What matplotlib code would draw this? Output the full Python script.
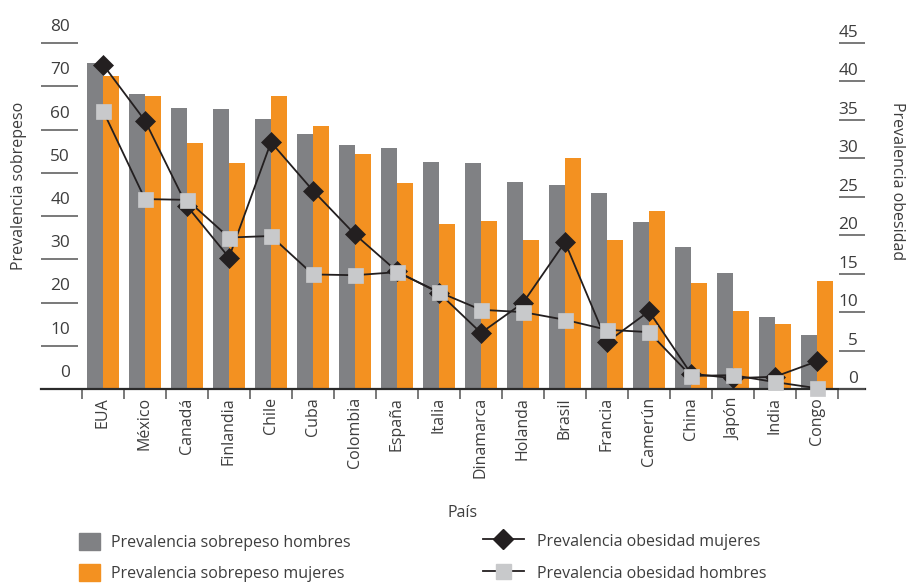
import matplotlib
matplotlib.use("Agg")
import matplotlib.pyplot as plt
import matplotlib.transforms as mtransforms
from matplotlib.lines import Line2D
from matplotlib.patches import Patch
import numpy as np

plt.rcParams["font.family"] = ["Open Sans", "DejaVu Sans"]

TEXT = "#3d3d3d"
TICK = "#555555"
GRAY = "#808184"
ORANGE = "#F39121"
DARK = "#231F20"
LIGHT = "#C8C9CB"

paises = ["EUA", "México", "Canadá", "Finlandia", "Chile", "Cuba", "Colombia",
          "España", "Italia", "Dinamarca", "Holanda", "Brasil", "Francia",
          "Camerún", "China", "Japón", "India", "Congo"]

# prevalencia de sobrepeso (%), eje izquierdo
sobrepeso_hombres = [75.3, 68.2, 65.0, 64.7, 62.4, 58.9, 56.4, 55.7, 52.5,
                     52.3, 47.9, 47.2, 45.3, 38.6, 32.8, 26.8, 16.6, 12.5]
sobrepeso_mujeres = [72.4, 67.7, 56.9, 52.3, 67.7, 60.8, 54.3, 47.6, 38.2,
                     38.8, 34.5, 53.4, 34.5, 41.2, 24.5, 18.0, 15.0, 25.0]

# prevalencia de obesidad (%), eje derecho
obesidad_mujeres = [42.2, 34.9, 23.8, 17.1, 32.1, 25.8, 20.1, 15.3, 12.5,
                    7.3, 11.2, 19.1, 6.1, 10.1, 2.0, 1.4, 1.6, 3.6]
obesidad_hombres = [36.2, 24.7, 24.6, 19.7, 19.9, 14.9, 14.8, 15.2, 12.6,
                    10.3, 10.0, 9.0, 7.7, 7.4, 1.7, 1.8, 0.9, 0.1]

ticks_izq = list(range(0, 81, 10))
ticks_der = list(range(0, 46, 5))

fig = plt.figure(figsize=(9.07, 5.85), dpi=100)
ax = fig.add_axes([41 / 907, 1 - 389 / 585, 824 / 907, 346 / 585])

x = np.arange(len(paises))
w = 0.37
ax.bar(x - w / 2, sobrepeso_hombres, w, color=GRAY, zorder=2)
ax.bar(x + w / 2, sobrepeso_mujeres, w, color=ORANGE, zorder=2)

ax.set_xlim(-1.476, 18.143)
ax.set_ylim(0, 80)
for s in ("top", "right", "left"):
    ax.spines[s].set_visible(False)
ax.spines["bottom"].set_color("#2b2b2b")
ax.spines["bottom"].set_linewidth(1.6)

# ticks: labels sit above short inward lines
ax.set_yticks(ticks_izq)
ax.tick_params(axis="y", direction="in", length=26.6, width=1.1,
               color=TICK, labelleft=False)
ax.set_xticks(x)
ax.set_xticklabels(paises, rotation=90, fontsize=11.5, color=TEXT)
ax.tick_params(axis="x", which="major", length=0, pad=6)
ax.set_xticks(np.arange(len(paises) + 1) - 0.5, minor=True)
ax.tick_params(axis="x", which="minor", length=7.5, width=1.1, color=TICK)

ax2 = ax.twinx()
ax2.set_ylim(0, 45)
for s in ax2.spines.values():
    s.set_visible(False)
ax2.set_yticks(ticks_der)
ax2.tick_params(axis="y", direction="in", length=18.7, width=1.1,
                color=TICK, labelright=False)

ax2.plot(x, obesidad_mujeres, color=DARK, lw=1.3, marker="D", ms=9.7,
         mfc=DARK, mec=DARK, mew=0.5, clip_on=False, zorder=3)
ax2.plot(x, obesidad_hombres, color=DARK, lw=1.3, marker="s", ms=10.8,
         mfc=LIGHT, mec=LIGHT, mew=0.5, clip_on=False, zorder=4)

trans_izq = mtransforms.offset_copy(
    mtransforms.blended_transform_factory(ax.transAxes, ax.transData),
    fig=fig, x=0, y=12, units="dots")
for v in ticks_izq:
    ax.text(0.0352, v, str(v), transform=trans_izq, ha="right",
            va="baseline", fontsize=12.4, color=TEXT)

trans_der = mtransforms.offset_copy(
    mtransforms.blended_transform_factory(ax2.transAxes, ax2.transData),
    fig=fig, x=0, y=6, units="dots")
for v in ticks_der:
    ax2.text(0.9915, v, str(v), transform=trans_der, ha="right",
             va="baseline", fontsize=12.4, color=TEXT)

fig.text(19 / 907, 1 - 186 / 585, "Prevalencia sobrepeso", rotation=90,
         ha="center", va="center", fontsize=11.5, color=TEXT)
fig.text(897 / 907, 1 - 181 / 585, "Prevalencia obesidad", rotation=270,
         ha="center", va="center", fontsize=11.5, color=TEXT)
fig.text(463 / 907, 1 - 513 / 585, "País", ha="center", va="center",
         fontsize=11.5, color=TEXT)

# legend: bars on the left, lines on the right
barras = [Patch(color=GRAY, label="Prevalencia sobrepeso hombres"),
          Patch(color=ORANGE, label="Prevalencia sobrepeso mujeres")]
fig.legend(handles=barras, loc="upper left",
           bbox_to_anchor=(79 / 907, 1 - 533 / 585), frameon=False,
           fontsize=11.5, labelcolor=TEXT, borderpad=0, borderaxespad=0,
           handlelength=1.3, handleheight=1.25, handletextpad=0.7,
           labelspacing=0.85)

lineas = [Line2D([], [], color=DARK, lw=1.3, marker="D", ms=9.7,
                 mfc=DARK, mec=DARK, label="Prevalencia obesidad mujeres"),
          Line2D([], [], color=DARK, lw=1.3, marker="s", ms=10.8,
                 mfc=LIGHT, mec=LIGHT, label="Prevalencia obesidad hombres")]
fig.legend(handles=lineas, loc="upper left",
           bbox_to_anchor=(483 / 907, 1 - 532 / 585), frameon=False,
           fontsize=11.5, labelcolor=TEXT, borderpad=0, borderaxespad=0,
           handlelength=2.56, handleheight=1.25, handletextpad=0.8,
           labelspacing=0.9, numpoints=1)

fig.savefig("out.png", dpi=100)
